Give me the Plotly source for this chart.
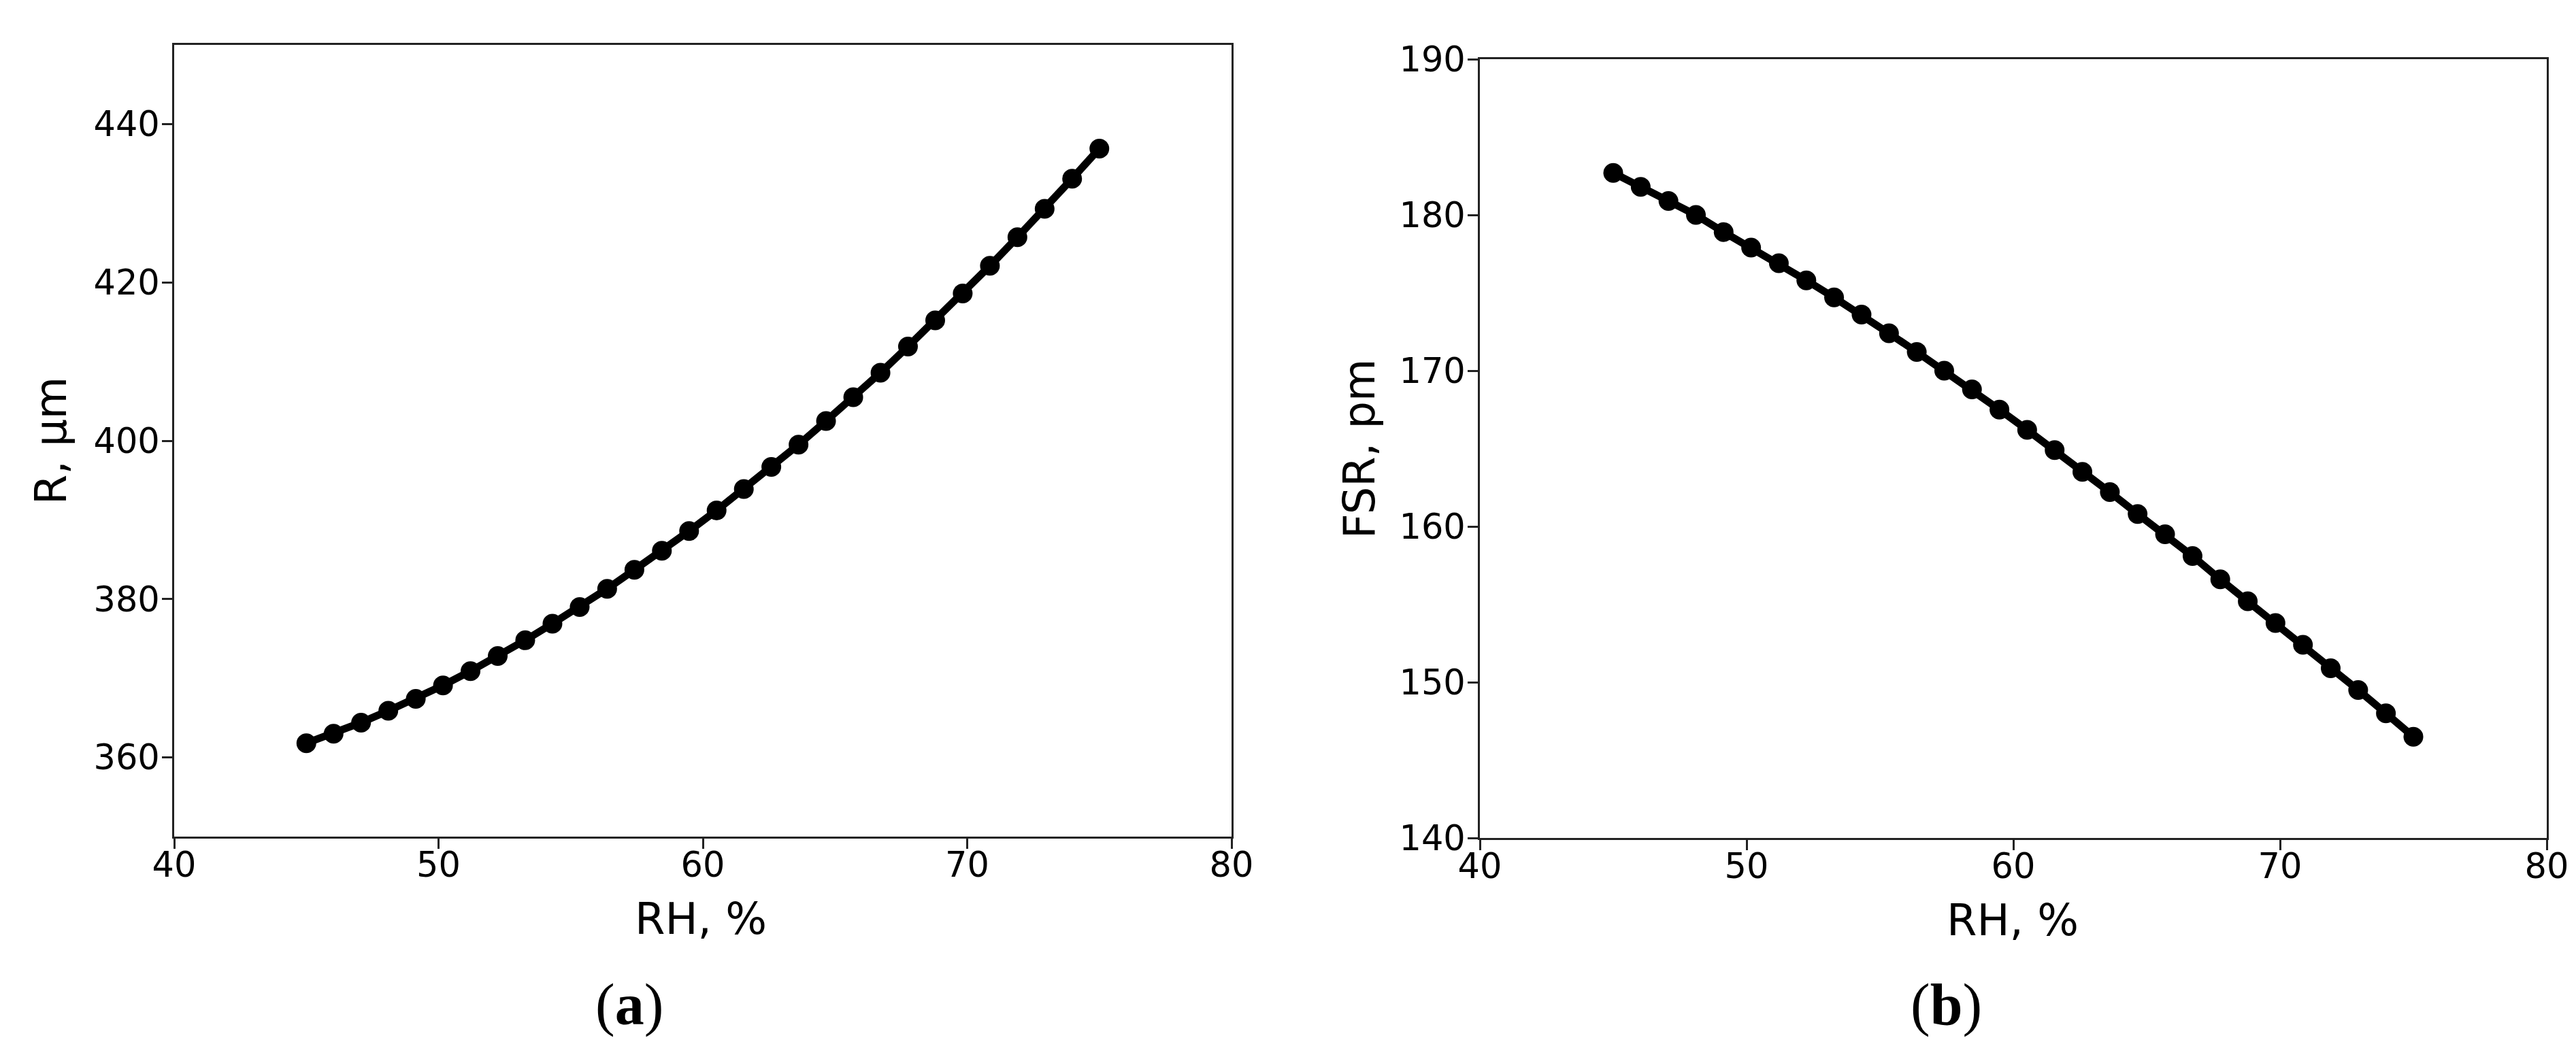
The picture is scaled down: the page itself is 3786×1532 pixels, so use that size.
import plotly.graph_objects as go
from plotly.subplots import make_subplots

# --- Data ---
rh = [45.0, 46.03, 47.07, 48.10, 49.14, 50.17, 51.21, 52.24, 53.28, 54.31,
      55.34, 56.38, 57.41, 58.45, 59.48, 60.52, 61.55, 62.59, 63.62, 64.66,
      65.69, 66.72, 67.76, 68.79, 69.83, 70.86, 71.90, 72.93, 73.97, 75.0]
radius_um = [361.8, 363.0, 364.4, 365.9, 367.4, 369.1, 370.9, 372.8, 374.8, 376.9,
             379.0, 381.3, 383.7, 386.1, 388.6, 391.2, 393.9, 396.7, 399.5, 402.5,
             405.5, 408.6, 411.9, 415.2, 418.6, 422.1, 425.7, 429.3, 433.1, 436.9]
fsr_pm = [182.7, 181.8, 180.9, 180.0, 178.9, 177.9, 176.9, 175.8, 174.7, 173.6,
          172.4, 171.2, 170.0, 168.8, 167.5, 166.2, 164.9, 163.5, 162.2, 160.8,
          159.5, 158.1, 156.6, 155.2, 153.8, 152.4, 150.9, 149.5, 148.0, 146.5]

x_ticks = [40, 50, 60, 70, 80]
r_ticks = [360, 380, 400, 420, 440]
fsr_ticks = [140, 150, 160, 170, 180, 190]

W, H = 3786, 1532
TICK_FONT = dict(family="DejaVu Sans", size=51, color="black")
TITLE_FONT = dict(family="DejaVu Sans", size=64, color="black")
CAP_FONT = dict(family="Liberation Serif", size=86, color="black")

fig = make_subplots(rows=1, cols=2)

line_style = dict(color="black", width=11)
marker_style = dict(color="black", size=29)

fig.add_trace(go.Scatter(x=rh, y=radius_um, mode="lines+markers",
                         line=line_style, marker=marker_style), row=1, col=1)
fig.add_trace(go.Scatter(x=rh, y=fsr_pm, mode="lines+markers",
                         line=line_style, marker=marker_style), row=1, col=2)

axis_common = dict(showline=True, mirror=True, linecolor="#222", linewidth=3,
                   ticks="outside", ticklen=15, tickwidth=3, tickcolor="#222",
                   showgrid=False, zeroline=False, tickfont=TICK_FONT,
                   automargin=False)

fig.update_xaxes(range=[40, 80], tickvals=x_ticks, ticklabelstandoff=-20, **axis_common)
fig.update_yaxes(ticklabelstandoff=-7, **axis_common)

fig.update_layout(
    width=W, height=H,
    margin=dict(l=0, r=0, t=0, b=0),
    paper_bgcolor="white", plot_bgcolor="white",
    showlegend=False,
    xaxis=dict(domain=[248 / W, 1802 / W]),
    xaxis2=dict(domain=[2167 / W, 3735 / W]),
    yaxis=dict(domain=[1 - 1222 / H, 1 - 58 / H], range=[350, 450], tickvals=r_ticks),
    yaxis2=dict(domain=[1 - 1224 / H, 1 - 79 / H], range=[140, 190], tickvals=fsr_ticks),
)

# --- Axis titles and panel captions ---
notes = [
    dict(text="RH, %", x=1022 / W, y=1 - 1343 / H, font=TITLE_FONT),
    dict(text="RH, %", x=2950 / W, y=1 - 1345 / H, font=TITLE_FONT),
    dict(text="R, µm", x=67 / W, y=1 - 640 / H, font=TITLE_FONT, textangle=-90),
    dict(text="FSR, pm", x=1990 / W, y=1 - 652 / H, font=TITLE_FONT, textangle=-90),
    dict(text="(<b>a</b>)", x=917 / W, y=1 - 1469 / H, font=CAP_FONT),
    dict(text="(<b>b</b>)", x=2852 / W, y=1 - 1469 / H, font=CAP_FONT),
]
for n in notes:
    fig.add_annotation(xref="paper", yref="paper", xanchor="center", yanchor="middle",
                       showarrow=False, **n)

fig.write_html("out.html")
